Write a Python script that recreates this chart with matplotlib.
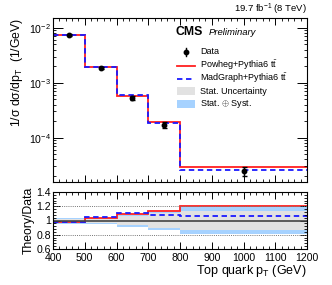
import matplotlib
matplotlib.use("Agg")
import matplotlib.pyplot as plt
import numpy as np
from matplotlib.lines import Line2D
from matplotlib.patches import Rectangle
from matplotlib.ticker import MultipleLocator, LogLocator, NullFormatter

plt.rcParams['font.family'] = ['Liberation Sans', 'DejaVu Sans']
plt.rcParams['mathtext.fontset'] = 'custom'
plt.rcParams['mathtext.rm'] = 'Liberation Sans'
plt.rcParams['mathtext.it'] = 'Liberation Sans:italic'
plt.rcParams['mathtext.bf'] = 'Liberation Sans:bold'

# bins of top quark pT (GeV)
edges = [400, 500, 600, 700, 800, 1200]
centers = [450, 550, 650, 750, 1000]

# normalised cross sections (1/GeV)
data = [7.45e-3, 1.88e-3, 5.35e-4, 1.70e-4, 2.42e-5]
powheg = [7.30e-3, 1.94e-3, 5.83e-4, 1.92e-4, 2.91e-5]
madgraph = [7.30e-3, 1.96e-3, 5.93e-4, 1.83e-4, 2.57e-5]

# relative uncertainties
stat_up = [0.025, 0.03, 0.06, 0.10, 0.14]
stat_dn = [0.035, 0.03, 0.065, 0.11, 0.14]
tot_up = [0.035, 0.04, 0.08, 0.12, 0.19]
tot_dn = [0.045, 0.045, 0.09, 0.13, 0.19]

RED = '#ff2020'
BLUE = '#1a1aff'
GREY = '#e2e2e2'
LBLUE = '#a6d2ff'
DASH = (0, (3, 2))

data = np.array(data)
ratio_pw = np.array(powheg) / data
ratio_mg = np.array(madgraph) / data

fig = plt.figure(figsize=(3.32, 2.85), dpi=100)
ax = fig.add_axes([53/332, 1 - 182/285, 254/332, 164/285])
rax = fig.add_axes([53/332, 1 - 249/285, 254/332, 57/285])

# ---- top panel
ax.stairs(powheg, edges, color=RED, lw=1.3, baseline=None)
ax.stairs(madgraph, edges, color=BLUE, lw=1.3, ls=DASH, baseline=None)
ax.errorbar(centers, data, yerr=[data*np.array(tot_dn), data*np.array(tot_up)],
            fmt='o', color='black', ms=3.2, elinewidth=1.0, capsize=1.8, capthick=1.0)

ax.set_yscale('log')
ax.set_xlim(400, 1200)
ax.set_ylim(1.55e-5, 1.52e-2)
ax.set_ylabel(r'1/σ dσ/dp$_{\mathrm{T}}$  (1/GeV)', fontsize=8.8, loc='top', labelpad=3)
ax.tick_params(labelbottom=False)

# ---- ratio panel
rax.stairs(1 + np.array(tot_up), edges, baseline=1 - np.array(tot_dn), fill=True, color=LBLUE, lw=0)
rax.stairs(1 + np.array(stat_up), edges, baseline=1 - np.array(stat_dn), fill=True, color=GREY, lw=0)
rax.axhline(1.0, color='#444444', lw=1.2)
for g in (0.8, 1.2):
    rax.axhline(g, color='#777777', lw=0.7, ls=(0, (1, 1.2)))
rax.stairs(ratio_pw, edges, color=RED, lw=1.3, baseline=None)
rax.stairs(ratio_mg, edges, color=BLUE, lw=1.3, ls=DASH, baseline=None)
rax.set_xlim(400, 1200)
rax.set_ylim(0.6, 1.4)
rax.set_yticks([0.6, 0.8, 1.0, 1.2, 1.4])
rax.set_yticklabels(['0.6', '0.8', '1', '1.2', '1.4'])
rax.yaxis.set_minor_locator(MultipleLocator(0.04))
rax.set_ylabel('Theory/Data', fontsize=8.8, labelpad=1)
rax.set_xlabel(r'Top quark p$_{\mathrm{T}}$ (GeV)', fontsize=9, loc='right', labelpad=0)

for a in (ax, rax):
    a.xaxis.set_major_locator(MultipleLocator(100))
    a.xaxis.set_minor_locator(MultipleLocator(20))
    a.tick_params(which='both', direction='in', top=True, right=True, labelsize=7.6, pad=1.5)
    a.tick_params(which='major', length=5, width=0.7)
    a.tick_params(which='minor', length=2.5, width=0.6)
    for s in a.spines.values():
        s.set_linewidth(0.8)
rax.tick_params(axis='x', pad=3)
ax.yaxis.set_minor_locator(LogLocator(base=10, subs=np.arange(2, 10)))
ax.yaxis.set_minor_formatter(NullFormatter())
ax.tick_params(which='major', axis='y', length=7)

# ---- texts
fig.text(307/332, 1 - 9/285, r'19.7 fb$^{-1}$ (8 TeV)', ha='right', va='center', fontsize=6.8)
fig.text(176/332, 1 - 32/285, 'CMS', ha='left', va='center', fontsize=8.8, fontweight='bold')
fig.text(209/332, 1 - 32.5/285, 'Preliminary', ha='left', va='center', fontsize=6.8, style='italic')

# ---- legend, one row every 13 px
labels = ['Data', r'Powheg+Pythia6 t$\bar{\mathrm{t}}$', r'MadGraph+Pythia6 t$\bar{\mathrm{t}}$',
          'Stat. Uncertainty', r'Stat. $\oplus$ Syst.']
row_y = [52, 65.5, 78.5, 91.5, 104]
kx0, kx1, tx = 177, 195, 200
px = lambda v: v / 332
py = lambda v: 1 - v / 285
T = fig.transFigure
for lab, y in zip(labels, row_y):
    fig.text(px(tx), py(y), lab, ha='left', va='center', fontsize=6.5)
xm = (kx0 + kx1) / 2
fig.add_artist(Line2D([px(xm)], [py(row_y[0])], marker='o', ms=3.2, color='black', transform=T))
fig.add_artist(Line2D([px(xm)] * 2, [py(row_y[0] - 4), py(row_y[0] + 4)], color='black', lw=1.0, transform=T))
fig.add_artist(Line2D([px(kx0), px(kx1)], [py(row_y[1])] * 2, color=RED, lw=1.3, transform=T))
fig.add_artist(Line2D([px(kx0), px(kx1)], [py(row_y[2])] * 2, color=BLUE, lw=1.3, ls=DASH, transform=T))
for y, c in zip(row_y[3:], [GREY, LBLUE]):
    fig.add_artist(Rectangle((px(kx0), py(y + 4)), px(kx1) - px(kx0), 8/285, facecolor=c,
                             edgecolor='none', transform=T))

fig.savefig('out.png', dpi=100)
